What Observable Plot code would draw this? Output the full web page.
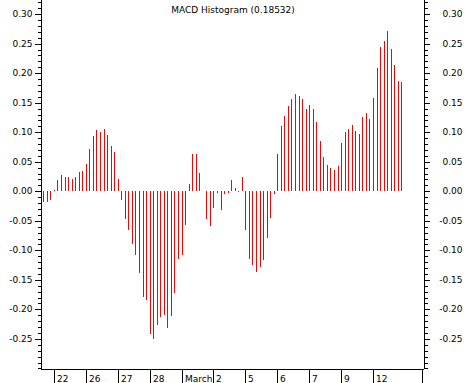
<!DOCTYPE html>
<html><head><meta charset="utf-8">
<script src="https://cdn.jsdelivr.net/npm/d3@7"></script>
<script src="https://cdn.jsdelivr.net/npm/@observablehq/plot@0.6"></script>
<style>body{margin:0;background:#fff}</style>
</head><body><div id="chart"></div>
<script>
// MACD histogram values, one per bar (bar index 1..102)
const values = [
  -0.018, -0.018, -0.015, 0.003, 0.019, 0.027, 0.025, 0.024, 0.020, 0.024,
  0.032, 0.034, 0.047, 0.071, 0.093, 0.103, 0.100, 0.105, 0.095, 0.076,
  0.066, 0.020, -0.015, -0.047, -0.066, -0.089, -0.108, -0.138, -0.179, -0.184,
  -0.242, -0.250, -0.227, -0.213, -0.210, -0.232, -0.211, -0.172, -0.115, -0.108,
  -0.057, 0.012, 0.063, 0.064, 0.031, 0.000, -0.047, -0.059, -0.028, -0.003,
  -0.032, -0.005, -0.003, 0.019, 0.005, -0.001, 0.024, -0.066, -0.115, -0.125,
  -0.137, -0.128, -0.116, -0.079, -0.045, -0.005, 0.064, 0.110, 0.127, 0.144,
  0.156, 0.164, 0.161, 0.156, 0.139, 0.146, 0.139, 0.117, 0.086, 0.058,
  0.044, 0.039, 0.036, 0.042, 0.081, 0.100, 0.105, 0.112, 0.102, 0.097,
  0.125, 0.132, 0.122, 0.158, 0.208, 0.244, 0.254, 0.271, 0.241, 0.214,
  0.186, 0.18532
];
const xTickIdx = [4, 13, 22, 31, 40, 49, 58, 67, 76, 85, 94];
const xTickLabels = ["22", "26", "27", "28", "March", "2", "5", "6", "7", "9", "12"];
const xEdge = [107.8];
const yMajor = [-0.25, -0.20, -0.15, -0.10, -0.05, 0, 0.05, 0.10, 0.15, 0.20, 0.25, 0.30];
const yMinor = d3.range(-30, 33).map(k => k / 100);
const title = "MACD Histogram (0.18532)";
const xDomain = [0.351, 108.391];
const yDomain = [-0.301, 0.324];

const bars = values.map((v, i) => ({i: i + 1, v}));
const fmt = d => d.toFixed(2);
const blank = () => "";

const chart = Plot.plot({
  width: 465, height: 383,
  marginLeft: 41, marginRight: 41, marginTop: 0, marginBottom: 14,
  style: {fontFamily: "DejaVu Sans", fontSize: "9px", background: "white", color: "black"},
  x: {domain: xDomain, round: true},
  y: {domain: yDomain, round: true},
  marks: [
    Plot.ruleX(bars, {x: "i", y1: 0, y2: "v", stroke: "#ff0000", strokeWidth: 1}),
    Plot.axisY(yMinor, {anchor: "left", tickSize: 3, tickFormat: blank, label: null}),
    Plot.axisY(yMajor, {anchor: "left", tickSize: 6, tickPadding: 3, tickFormat: fmt, label: null}),
    Plot.axisY(yMinor, {anchor: "right", tickSize: 3, tickFormat: blank, label: null}),
    Plot.axisY(yMajor, {anchor: "right", tickSize: 5, tickPadding: 33, textAnchor: "end", tickFormat: fmt, label: null}),
    Plot.axisX(xTickIdx, {anchor: "bottom", tickSize: 14, tickFormat: blank, label: null}),
    Plot.axisX(xEdge, {anchor: "bottom", tickSize: 14, tickFormat: blank, label: null}),
    Plot.text(xTickIdx, {x: d => d, text: (d, i) => xTickLabels[i], frameAnchor: "bottom", textAnchor: "start", lineAnchor: "bottom", dx: 2.5, dy: 12.5, fill: "black"}),
    Plot.ruleX(xDomain, {stroke: "black"}),
    Plot.ruleY(yDomain.slice(0, 1), {stroke: "black"}),
    Plot.text([title], {frameAnchor: "top", lineAnchor: "bottom", dy: 12, fill: "black"})
  ]
});
document.getElementById("chart").appendChild(chart);
</script>
</body></html>
